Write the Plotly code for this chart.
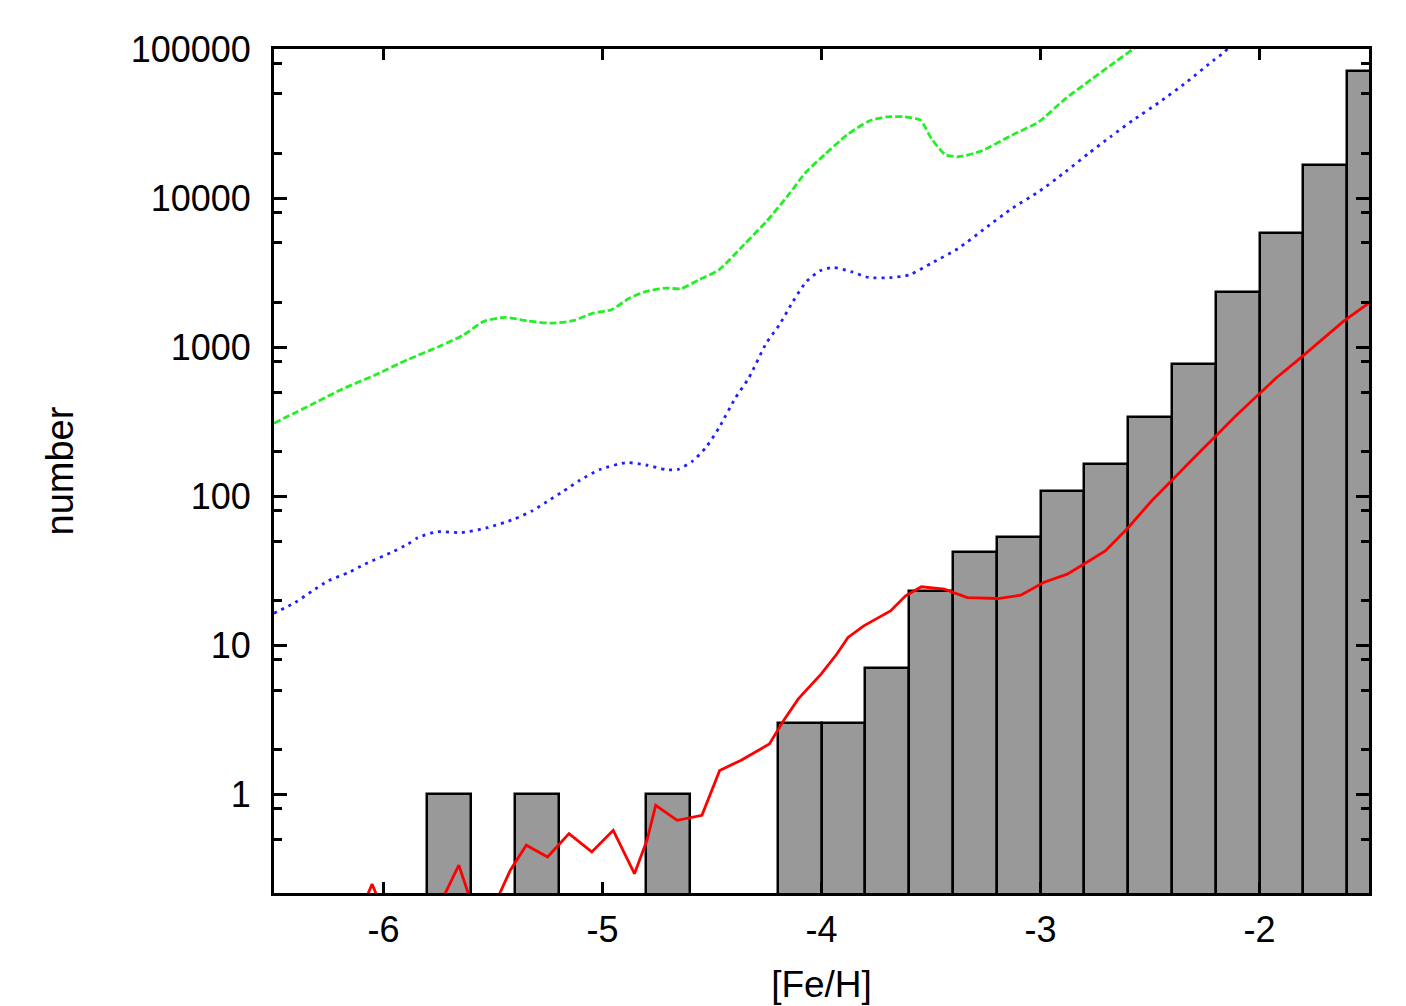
import plotly.graph_objects as go

# Histogram of [Fe/H] (bin left edges, bin width 0.2) and counts
bin_left = [-5.8, -5.4, -4.8, -4.2, -4.0, -3.8, -3.6, -3.4, -3.2, -3.0, -2.8, -2.6, -2.4, -2.2, -2.0, -1.8, -1.6]
counts = [1, 1, 1, 3, 3, 7, 23, 42, 53, 108, 164, 339, 767, 2328, 5800, 16700, 71000]
bin_width = 0.2

# Green curve
green_x = [-6.5, -6.328, -6.192, -6.041, -5.889, -5.738, -5.632, -5.542, -5.443, -5.345, -5.239, -5.134,
           -5.043, -4.959, -4.876, -4.801, -4.710, -4.642, -4.559, -4.468, -4.355, -4.252, -4.151, -4.069,
           -3.988, -3.885, -3.784, -3.702, -3.620, -3.548, -3.498, -3.436, -3.375, -3.272, -3.130, -3.008,
           -2.886, -2.763, -2.659, -2.577, -2.55]
green_y = [309, 412, 520, 648, 825, 1023, 1213, 1489, 1583, 1504, 1449, 1504,
           1691, 1783, 2133, 2364, 2489, 2466, 2833, 3304, 4853, 6951, 10490, 15020,
           19420, 26420, 32800, 35060, 35060, 33320, 25100, 19620, 18940, 20660, 26420, 32460,
           46450, 63240, 81850, 100000, 108000]

# Blue curve
blue_x = [-6.5, -6.403, -6.328, -6.252, -6.161, -6.086, -5.965, -5.889, -5.844, -5.753, -5.647, -5.526,
          -5.406, -5.322, -5.254, -5.179, -5.103, -5.012, -4.891, -4.801, -4.710, -4.657, -4.589, -4.529,
          -4.468, -4.393, -4.332, -4.252, -4.192, -4.130, -4.069, -4.007, -3.947, -3.865, -3.784, -3.680,
          -3.599, -3.498, -3.375, -3.253, -3.130, -3.008, -2.886, -2.781, -2.681, -2.577, -2.455, -2.332,
          -2.210, -2.160, -2.12]
blue_y = [16.4, 19.4, 23.0, 27.1, 30.7, 35.0, 41.9, 47.7, 52.7, 57.8, 57.0, 61.5,
          70.0, 79.6, 91.9, 108, 128, 151, 168, 162, 151, 151, 172, 211,
          288, 457, 621, 1065, 1415, 2027, 2757, 3251, 3420, 3214, 2931, 2931,
          3055, 3656, 4605, 6266, 8531, 11040, 15020, 19910, 25770, 33340, 44170, 60120,
          84000, 95500, 110000]

# Red curve (None = gap where the curve is below the plotted range)
red_x = [-6.08, -6.052, -6.025, None,
         -5.73, -5.656, -5.605, None,
         -5.48, -5.421, -5.348, -5.251, -5.153, -5.049, -4.951, -4.854, -4.797, -4.757, -4.659, -4.546,
         -4.465, -4.369, -4.238, -4.173, -4.106, -4.001, -3.930, -3.879, -3.807, -3.685, -3.616, -3.544,
         -3.439, -3.334, -3.194, -3.090, -2.986, -2.878, -2.790, -2.704, -2.600, -2.493, -2.291, -2.110,
         -1.924, -1.822, -1.617, -1.50]
red_y = [0.2, 0.25, 0.2, None,
         0.2, 0.335, 0.2, None,
         0.2, 0.31, 0.456, 0.38, 0.546, 0.411, 0.574, 0.294, 0.492, 0.844, 0.670, 0.723,
         1.448, 1.69, 2.18, 3.13, 4.37, 6.43, 8.74, 11.3, 13.5, 17.0, 21.5, 24.7,
         23.8, 20.9, 20.6, 21.7, 26.4, 30.0, 35.9, 43.0, 61.5, 92.9, 186, 344,
         621, 824, 1489, 1980]

x_tickvals = [-6, -5, -4, -3, -2]
x_ticktext = ["-6", "-5", "-4", "-3", "-2"]
y_tickvals = [1, 10, 100, 1000, 10000, 100000]
y_ticktext = ["1", "10", "100", "1000", "10000", "100000"]
y_minor_vals = [m * 10 ** e for e in range(-1, 5) for m in (2, 5, 8)]

FONT = "Liberation Sans, Arial, sans-serif"

fig = go.Figure()
fig.add_trace(go.Bar(
    x=bin_left, y=counts, width=[bin_width] * len(bin_left), offset=0,
    marker=dict(color="#999999", line=dict(color="black", width=2.5)),
    showlegend=False,
))
fig.add_trace(go.Scatter(x=green_x, y=green_y, mode="lines",
                         line=dict(color="#22f022", width=2.8, dash="7px,3px", shape="spline", smoothing=0.6),
                         showlegend=False))
fig.add_trace(go.Scatter(x=blue_x, y=blue_y, mode="lines",
                         line=dict(color="#2020ff", width=2.8, dash="3px,5px", shape="spline", smoothing=0.6),
                         showlegend=False))
fig.add_trace(go.Scatter(x=red_x, y=red_y, mode="lines", connectgaps=False,
                         line=dict(color="#ff0000", width=2.8),
                         showlegend=False))

fig.update_layout(
    width=1406, height=1006,
    margin=dict(l=266, r=45, t=41, b=121),
    paper_bgcolor="white", plot_bgcolor="white",
    font=dict(family=FONT, size=36, color="black"),
    bargap=0,
    xaxis=dict(
        range=[-6.5, -1.5], tickvals=x_tickvals, ticktext=x_ticktext,
        ticks="inside", ticklen=11, tickwidth=2.5, tickcolor="black",
        showline=True, linecolor="black", linewidth=3, mirror="ticks",
        showgrid=False, zeroline=False, ticklabelstandoff=3,
        tickfont=dict(size=36),
        title=dict(text="[Fe/H]", standoff=22, font=dict(size=37)),
    ),
    yaxis=dict(
        type="log", range=[-0.6615, 5.0], tickvals=y_tickvals, ticktext=y_ticktext,
        ticks="inside", ticklen=13, tickwidth=2.5, tickcolor="black",
        showline=True, linecolor="black", linewidth=3, mirror="ticks",
        showgrid=False, zeroline=False, ticklabelstandoff=13,
        tickfont=dict(size=36),
        minor=dict(tickvals=y_minor_vals, ticks="inside", ticklen=8, tickwidth=2.5, tickcolor="black"),
        title=dict(text="number", standoff=46, font=dict(size=38)),
    ),
)

fig.write_html("out.html")
